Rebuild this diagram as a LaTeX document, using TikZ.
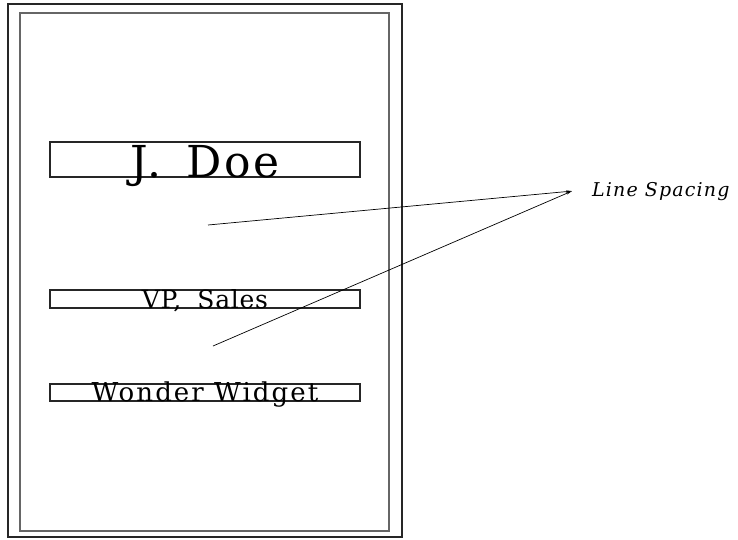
\documentclass[tikz,border=0pt]{standalone}
\usepackage{fontspec}
\usetikzlibrary{arrows.meta}
\newfontfamily\cardfont{DejaVu Serif}
\newfontfamily\notefont{DejaVu Serif}

\begin{document}
\begin{tikzpicture}[x=1pt,y=-1pt,
    fieldbox/.style={draw=black!85, line width=1.2pt, inner sep=0pt,
      minimum width=310pt},
    fieldtext/.style={anchor=base, inner sep=0pt},
    gapline/.style={black, line width=0.7pt,
      -{Stealth[length=6pt,width=2.5pt]}}]

  \useasboundingbox (0,0) rectangle (738,539);

  % Card frames
  \draw[black!85, line width=1.2pt] (8,4) rectangle (402,537);
  \draw[black!60, line width=1.8pt] (20,13) rectangle (389,531);

  % Field boxes
  \node[fieldbox, minimum height=35pt] (name) at (205,159.5) {};
  \node[fieldbox, minimum height=18pt] (title) at (205,299) {};
  \node[fieldbox, minimum height=17pt] (company) at (205,392.5) {};

  % Field texts
  \node[fieldtext, font={\cardfont\addfontfeature{LetterSpace=6}\fontsize{44}{44}\selectfont}]
    (nametext) at (name.south) {J.\hspace{0.2em} Doe};
  \node[fieldtext, font={\cardfont\addfontfeature{LetterSpace=3}\fontsize{25}{25}\selectfont}]
    (titletext) at (title.south) {VP,\hspace{0.3em} Sales};
  \node[fieldtext, font={\cardfont\addfontfeature{LetterSpace=8}\fontsize{26}{26}\selectfont}]
    (companytext) at (company.south) {Wonder Widget};

  % Label
  \node[anchor=base west, inner sep=0pt,
    font={\notefont\itshape\addfontfeature{LetterSpace=6}\fontsize{19}{19}\selectfont}]
    (spacing) at (592,196) {Line Spacing};

  % Gaps between lines
  \coordinate (gap1) at (208,225);
  \coordinate (gap2) at (213,346);
  \coordinate (tip) at ([xshift=-20pt]spacing.west);

  \draw[gapline] (gap1) -- (tip);
  \draw[gapline] (gap2) -- (tip);

\end{tikzpicture}
\end{document}
